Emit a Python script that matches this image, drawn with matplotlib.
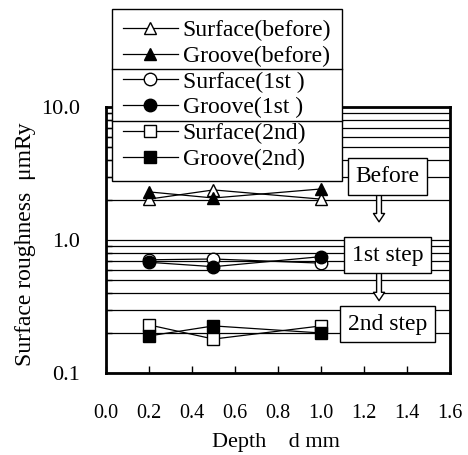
import matplotlib
matplotlib.use("Agg")
import matplotlib.pyplot as plt
from matplotlib.ticker import LogLocator, FixedLocator, FuncFormatter, NullFormatter
from matplotlib.lines import Line2D

plt.rcParams['font.family'] = ['Liberation Serif', 'DejaVu Serif']

# donnees
depth = [0.2, 0.5, 1.0]
surface_before = [2.03, 2.38, 2.03]
groove_before = [2.30, 2.07, 2.42]
surface_1st = [0.71, 0.72, 0.67]
groove_1st = [0.68, 0.63, 0.75]
surface_2nd = [0.23, 0.18, 0.226]
groove_2nd = [0.19, 0.226, 0.20]

labels = ['Surface(before)', 'Groove(before)', 'Surface(1st )', 'Groove(1st )',
          'Surface(2nd)', 'Groove(2nd)']
x_ticks = [0.0, 0.2, 0.4, 0.6, 0.8, 1.0, 1.2, 1.4, 1.6]
y_ticks = [0.1, 1.0, 10.0]

steps = ['Before', '1st step', '2nd step']
step_x = [1.31, 1.31, 1.31]
step_y = [3.0, 0.77, 0.233]
arrows = [(2.3, 1.37), (0.58, 0.35)]
arrow_x = 1.27

fig = plt.figure(figsize=(4.68, 4.55), dpi=100)
ax = fig.add_axes([0.2265, 0.1802, 0.735, 0.5846])

series = [
    (surface_before, '^', 'white'),
    (groove_before, '^', 'black'),
    (surface_1st, 'o', 'white'),
    (groove_1st, 'o', 'black'),
    (surface_2nd, 's', 'white'),
    (groove_2nd, 's', 'black'),
]
handles = []
for (vals, m, fc), lab in zip(series, labels):
    h, = ax.plot(depth, vals, color='black', lw=0.9, marker=m, ms=9,
                 mfc=fc, mec='black', mew=1.0, label=lab, zorder=4)
    handles.append(h)

ax.set_yscale('log')
ax.set_ylim(0.1, 10)
ax.set_xlim(0, 1.6)
ax.yaxis.set_major_locator(FixedLocator(y_ticks))
ax.yaxis.set_major_formatter(FuncFormatter(lambda v, p: '%.1f' % v))
ax.yaxis.set_minor_locator(LogLocator(base=10, subs=range(2, 10)))
ax.yaxis.set_minor_formatter(NullFormatter())
ax.set_xticks(x_ticks)
ax.xaxis.set_major_formatter(FuncFormatter(lambda v, p: '%.1f' % v))

ax.yaxis.grid(True, which='both', color='black', lw=0.9)
ax.tick_params(axis='x', direction='in', length=5, width=1, pad=22, labelsize=14.5)
ax.tick_params(axis='y', which='major', direction='in', length=0, pad=19, labelsize=16)
ax.tick_params(axis='y', which='minor', direction='in', length=4, width=1)
for s in ax.spines.values():
    s.set_linewidth(2)

ax.set_xlabel('Depth    d mm', fontsize=16, va='center')
ax.xaxis.set_label_coords(0.494, -0.263)
ax.set_ylabel('Surface roughness  μmRy', fontsize=17, va='center')
ax.yaxis.set_label_coords(-0.233, 0.485)

for t, x, y in zip(steps, step_x, step_y):
    ax.text(x, y, t, fontsize=17, ha='center', va='center', zorder=7,
            bbox=dict(boxstyle='square,pad=0.33', fc='white', ec='black', lw=1))

for y0, y1 in arrows:
    ax.annotate('', xy=(arrow_x, y1), xytext=(arrow_x, y0), zorder=6,
                arrowprops=dict(arrowstyle='simple,head_width=0.8,head_length=0.6,tail_width=0.35',
                                fc='white', ec='black', lw=1, shrinkA=0, shrinkB=0))

# legende : une boite, coupee en trois groupes
leg = ax.legend(handles=handles, loc='upper left', bbox_to_anchor=(112 / 468, 1 - 9 / 455),
                bbox_transform=fig.transFigure, fontsize=17, frameon=True, fancybox=False,
                edgecolor='black', framealpha=1, handlelength=2.35, handletextpad=0.2,
                labelspacing=0.18, borderpad=0.45, borderaxespad=0)
leg.get_frame().set_linewidth(1)
leg.set_zorder(10)

fig.canvas.draw()
fb = leg.get_frame().get_window_extent()
texts = leg.get_texts()
inv = fig.transFigure.inverted()
for i in (1, 3):
    a = texts[i].get_window_extent()
    b = texts[i + 1].get_window_extent()
    ymid = (a.y0 + b.y1) / 2
    (x0, yy), (x1, _) = inv.transform([(fb.x0, ymid), (fb.x1, ymid)])
    fig.add_artist(Line2D([x0, x1], [yy, yy], color='black', lw=1, zorder=11))

fig.savefig('out.png', dpi=100)
